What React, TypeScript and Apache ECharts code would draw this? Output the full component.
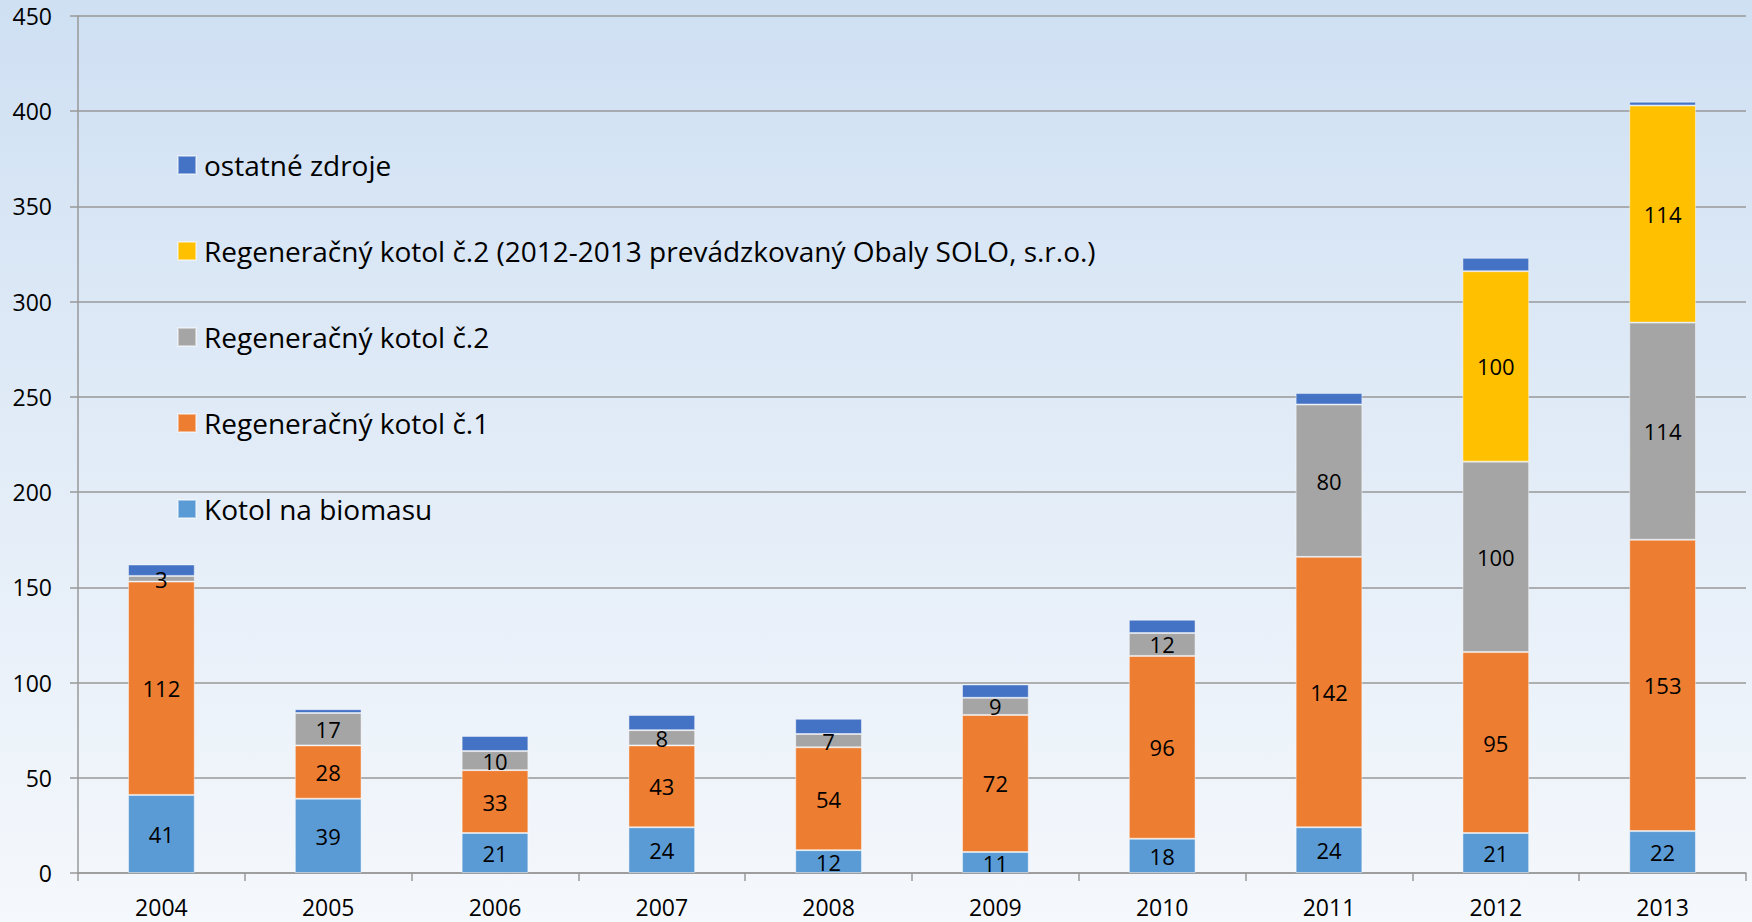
import React, { useEffect, useRef } from "react";
import * as echarts from "echarts";

const categories = ["2004", "2005", "2006", "2007", "2008", "2009", "2010", "2011", "2012", "2013"];
const biomasa = [41, 39, 21, 24, 12, 11, 18, 24, 21, 22];
const kotol1 = [112, 28, 33, 43, 54, 72, 96, 142, 95, 153];
const kotol2 = [3, 17, 10, 8, 7, 9, 12, 80, 100, 114];
const kotol2Solo = [null, null, null, null, null, null, null, null, 100, 114];
const ostatne = [6, 2, 8, 8, 8, 7, 7, 6, 7, 2];
const yTicks = { min: 0, max: 450, interval: 50 };

const seriesNames = [
  "Kotol na biomasu",
  "Regeneračný kotol č.1",
  "Regeneračný kotol č.2",
  "Regeneračný kotol č.2 (2012-2013 prevádzkovaný Obaly SOLO, s.r.o.)",
  "ostatné zdroje",
];
const colors = ["#5b9bd5", "#ed7d31", "#a5a5a5", "#ffc000", "#4472c4"];

export default function App() {
  const ref = useRef<HTMLDivElement>(null);
  useEffect(() => {
    if (!ref.current) return;
    const chart = echarts.init(ref.current, undefined, { renderer: "svg" });
    const font = "'Open Sans', sans-serif";
    const datasets = [biomasa, kotol1, kotol2, kotol2Solo, ostatne];
    const series = datasets.map((d, i) => ({
      name: seriesNames[i],
      type: "bar",
      stack: "total",
      data: d,
      barWidth: "40%",
      itemStyle: { color: colors[i], borderColor: "rgba(255,255,255,0.45)", borderWidth: 1 },
      label: {
        show: i !== 4,
        position: "inside",
        color: "#000",
        fontSize: 22,
        fontFamily: font,
        formatter: (p: any) => (p.value == null ? "" : String(p.value)),
      },
    }));
    chart.setOption({
      animation: false,
      backgroundColor: {
        type: "linear",
        x: 0,
        y: 0,
        x2: 0,
        y2: 1,
        colorStops: [
          { offset: 0, color: "#cfe0f3" },
          { offset: 1, color: "#f5f8fc" },
        ],
      },
      grid: { left: 78, right: 6, top: 16, bottom: 49, containLabel: false },
      legend: {
        orient: "vertical",
        left: 172,
        top: 146,
        itemWidth: 18,
        itemHeight: 18,
        itemGap: 58,
        icon: "rect",
        data: seriesNames.slice().reverse(),
        textStyle: { fontSize: 28, fontFamily: font, color: "#000", padding: [0, 0, 0, 3] },
      },
      xAxis: {
        type: "category",
        data: categories,
        axisLine: { lineStyle: { color: "#999", width: 1.5 } },
        axisTick: { show: true, length: 8, interval: 0, lineStyle: { color: "#999", width: 1.5 } },
        axisLabel: { fontSize: 23, lineHeight: 18, fontFamily: font, color: "#000", margin: 25, interval: 0 },
      },
      yAxis: {
        type: "value",
        min: yTicks.min,
        max: yTicks.max,
        interval: yTicks.interval,
        axisLine: { show: true, lineStyle: { color: "#999", width: 1.5 } },
        axisTick: { show: true, length: 8, lineStyle: { color: "#999", width: 1.5 } },
        splitLine: { lineStyle: { color: "#999", width: 1.5 } },
        axisLabel: { fontSize: 23, fontFamily: font, color: "#000", margin: 26 },
      },
      series,
    });
    return () => chart.dispose();
  }, []);
  return (
    <div
      ref={ref}
      style={{ position: "fixed", left: 0, top: 0, width: 1752, height: 922 }}
    />
  );
}
